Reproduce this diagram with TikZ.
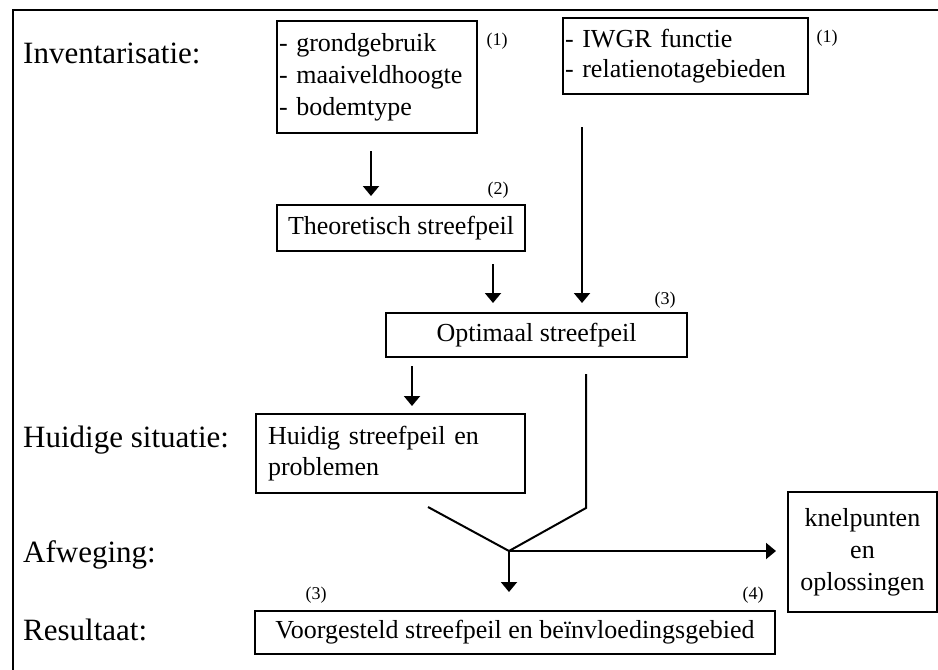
\documentclass[tikz,border=0pt]{standalone}
\usepackage{fontspec}
\setmainfont{Liberation Serif}
\usetikzlibrary{arrows.meta}
\tikzset{
  boxnode/.style={draw, line width=2pt, inner sep=0pt, font=\fontsize{26}{32}\selectfont},
  sidelabel/.style={anchor=base west, inner sep=0pt, font=\fontsize{31}{37}\selectfont},
  numlabel/.style={inner sep=0pt, font=\fontsize{18}{20}\selectfont},
  conn/.style={line width=2pt},
  arr/.style={line width=2pt, -{Triangle[length=10pt,width=16pt]}},
}
\begin{document}
\begin{tikzpicture}[x=1pt,y=-1pt]
\useasboundingbox (0,0) rectangle (938,670);
\fill[white] (0,0) rectangle (938,670);
% frame (cropped at right and bottom)
\draw[line width=2.5pt] (13,670) -- (13,10) -- (938,10);

% side labels
\node[sidelabel] (linv) at (23,63) {Inventarisatie:};
\node[sidelabel] (lhuid) at (23,447) {Huidige situatie:};
\node[sidelabel] (lafw) at (23,562) {Afweging:};
\node[sidelabel] (lres) at (23,640) {Resultaat:};

% boxes
\node[boxnode, minimum width=200pt, minimum height=112pt, text width=196pt, align=left] (box1) at (377,77)
  {- grondgebruik\\- maaiveldhoogte\\- bodemtype};
\node[boxnode, minimum width=245pt, minimum height=76pt, text width=241pt, align=left,
      font=\fontsize{26}{30}\selectfont] (box2) at (685.5,56)
  {- IWGR functie\\- relatienotagebieden};
\node[boxnode, minimum width=248pt, minimum height=46pt] (theo) at (401,228) {Theoretisch streefpeil};
\node[boxnode, minimum width=301pt, minimum height=44pt] (opt) at (536.5,335) {Optimaal streefpeil};
\node[boxnode, minimum width=269pt, minimum height=79pt, text width=245pt, align=left,
      font=\fontsize{26}{31}\selectfont] (huid) at (390.5,453.5)
  {Huidig streefpeil en\\problemen};
\node[boxnode, minimum width=149pt, minimum height=120pt, align=center,
      font=\fontsize{26}{32}\selectfont] (knel) at (862.5,552)
  {knelpunten\\en\\oplossingen};
\node[boxnode, minimum width=520pt, minimum height=43pt] (voor) at (515,632.5)
  {Voorgesteld streefpeil en beïnvloedingsgebied};

% number labels
\node[numlabel] (n1a) at (497,41) {(1)};
\node[numlabel] (n1b) at (827,38) {(1)};
\node[numlabel] (n2) at (498,190) {(2)};
\node[numlabel] (n3a) at (665,300) {(3)};
\node[numlabel] (n3b) at (316,595) {(3)};
\node[numlabel] (n4) at (753,595) {(4)};

% connectors
\draw[arr, shorten <=17pt, shorten >=8pt] ([xshift=-6pt]box1.south) -- ([xshift=-6pt]box1.south |- theo.north);
\draw[arr, shorten <=32pt, shorten >=9pt] ([xshift=-103.5pt]box2.south) -- ([xshift=-103.5pt]box2.south |- opt.north);
\draw[arr, shorten <=12pt, shorten >=9pt] ([xshift=92pt]theo.south) -- ([xshift=92pt]theo.south |- opt.north);
\draw[arr, shorten <=8pt, shorten >=7pt] ([xshift=-124.5pt]opt.south) -- ([xshift=-124.5pt]opt.south |- huid.north);

\coordinate (J) at (509,551);
\coordinate (R) at (586,508);
\coordinate (L) at (428,507);
\draw[conn, line join=miter, shorten <=16pt] (opt.south -| R) -- (R) -- (J);
\draw[conn] (L) -- (J);
\draw[arr, shorten >=11pt] (J) -- (J -| knel.west);
\draw[arr, shorten >=18pt] (J) -- (J |- voor.north);
\end{tikzpicture}
\end{document}
